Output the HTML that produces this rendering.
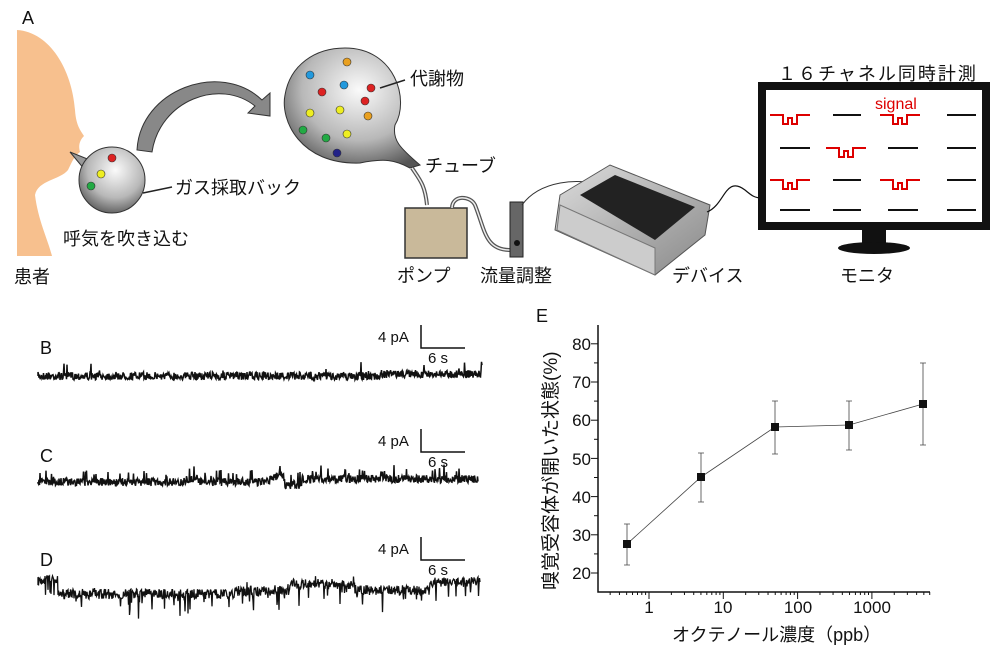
<!DOCTYPE html>
<html><head><meta charset="utf-8"><style>
body{margin:0;background:#fff}
svg{display:block}
text{font-family:"Liberation Sans","Noto Sans CJK JP",sans-serif;fill:#111}
</style></head><body>
<svg id="s" width="1000" height="657" viewBox="0 0 1000 657" xmlns="http://www.w3.org/2000/svg">
<defs>
<radialGradient id="g1" cx="0.55" cy="0.35" r="0.7"><stop offset="0" stop-color="#fafafa"/><stop offset="0.6" stop-color="#b8b8b8"/><stop offset="1" stop-color="#555"/></radialGradient>
<linearGradient id="dev" x1="0" y1="0" x2="1" y2="1"><stop offset="0" stop-color="#ddd"/><stop offset="1" stop-color="#888"/></linearGradient>
</defs>
<text x="22" y="24" font-size="18">A</text>
<path d="M17,30 C50,32 72,70 75,110 C76,125 80,130 84,136 C80,140 78,145 80,152 C74,156 72,162 68,170 C60,180 38,180 35,195 C38,220 48,240 52,256 L17,256 Z" fill="#f7c08e"/>
<text x="14" y="283" font-size="18">患者</text>
<path d="M70,152 L95,162 L85,170 Z" fill="#999" stroke="#333"/>
<circle cx="112" cy="180" r="33" fill="url(#g1)" stroke="#333"/>
<circle cx="112" cy="158" r="4" fill="#d22" stroke="#333" stroke-width=".6"/>
<circle cx="101" cy="174" r="4" fill="#ee2" stroke="#333" stroke-width=".6"/>
<circle cx="91" cy="186" r="4" fill="#2a4" stroke="#333" stroke-width=".6"/>
<line x1="143" y1="193" x2="172" y2="187" stroke="#222" stroke-width="1.5"/>
<text x="175" y="194" font-size="18">ガス採取バック</text>
<text x="63" y="245" font-size="18">呼気を吹き込む</text>
<path d="M137,150 C140,90 220,60 262,100 L270,93 L270,116 L248,113 L255,106 C220,78 160,100 152,152 Z" fill="#888" stroke="#333"/>
<path d="M345,48 C395,48 410,100 395,125 C392,140 400,148 420,165 L410,168 C395,160 385,158 360,163 C300,165 280,120 285,95 C290,65 315,48 345,48 Z" fill="url(#g1)" stroke="#333"/>
<g stroke="#333" stroke-width=".6">
<circle cx="347" cy="62" r="4" fill="#e9a020"/><circle cx="310" cy="75" r="4" fill="#29d"/><circle cx="344" cy="85" r="4" fill="#29d"/><circle cx="322" cy="92" r="4" fill="#d22"/><circle cx="371" cy="88" r="4" fill="#d22"/><circle cx="365" cy="101" r="4" fill="#d22"/><circle cx="310" cy="113" r="4" fill="#ee2"/><circle cx="340" cy="110" r="4" fill="#ee2"/><circle cx="368" cy="116" r="4" fill="#e9a020"/><circle cx="303" cy="130" r="4" fill="#2a4"/><circle cx="326" cy="138" r="4" fill="#2a4"/><circle cx="347" cy="134" r="4" fill="#ee2"/><circle cx="337" cy="153" r="4" fill="#228"/>
</g>
<line x1="380" y1="88" x2="405" y2="80" stroke="#222" stroke-width="1.5"/>
<text x="410" y="85" font-size="18">代謝物</text>
<text x="425" y="172" font-size="18">チューブ</text>
<path d="M412,168 C420,180 425,185 427,205" fill="none" stroke="#555" stroke-width="4"/>
<path d="M412,168 C420,180 425,185 427,205" fill="none" stroke="#eee" stroke-width="1.5"/>
<rect x="405" y="208" width="62" height="50" fill="#c9b99a" stroke="#333" stroke-width="1.5"/>
<text x="397" y="282" font-size="18">ポンプ</text>
<path d="M452,208 C452,195 470,195 475,205 C485,230 485,250 510,250" fill="none" stroke="#555" stroke-width="4"/>
<path d="M452,208 C452,195 470,195 475,205 C485,230 485,250 510,250" fill="none" stroke="#eee" stroke-width="1.5"/>
<rect x="510" y="202" width="13" height="55" fill="#666" stroke="#222"/>
<circle cx="517" cy="243" r="3" fill="#111"/>
<text x="480" y="282" font-size="18">流量調整</text>
<path d="M522,205 C540,180 580,178 600,185" fill="none" stroke="#333" stroke-width="1"/>
<path d="M560,195 L610,165 L710,205 L705,235 L655,275 L555,230 Z" fill="url(#dev)" stroke="#555"/>
<path d="M580,195 L615,175 L695,207 L655,240 Z" fill="#222"/>
<path d="M560,205 L655,248 L655,275 L557,230 Z" fill="#ccc" stroke="#777"/>
<text x="672" y="282" font-size="18">デバイス</text>
<path d="M707,212 C725,205 725,175 745,190 C752,196 755,198 762,198" fill="none" stroke="#111" stroke-width="1.2"/>
<rect x="762" y="86" width="224" height="140" fill="#fff" stroke="#111" stroke-width="8"/>
<rect x="862" y="226" width="24" height="18" fill="#111"/>
<ellipse cx="874" cy="248" rx="36" ry="6" fill="#111"/>
<text x="778" y="80" font-size="18" letter-spacing="2">１６チャネル同時計測</text>
<text x="875" y="109" font-size="16" style="fill:#d00">signal</text>
<g fill="none" stroke="#d00" stroke-width="2">
<path d="M770,115 h13 v9 h5 v-6 h4 v6 h5 v-9 h13"/>
<path d="M880,115 h13 v9 h5 v-6 h4 v6 h5 v-9 h13"/>
<path d="M826,148 h13 v9 h5 v-6 h4 v6 h5 v-9 h13"/>
<path d="M770,180 h13 v9 h5 v-6 h4 v6 h5 v-9 h13"/>
<path d="M880,180 h13 v9 h5 v-6 h4 v6 h5 v-9 h13"/>
</g>
<g stroke="#111" stroke-width="2">
<line x1="833" y1="115" x2="861" y2="115"/><line x1="947" y1="115" x2="976" y2="115"/>
<line x1="780" y1="148" x2="810" y2="148"/><line x1="888" y1="148" x2="918" y2="148"/><line x1="947" y1="148" x2="976" y2="148"/>
<line x1="833" y1="180" x2="861" y2="180"/><line x1="947" y1="180" x2="976" y2="180"/>
<line x1="780" y1="210" x2="810" y2="210"/><line x1="833" y1="210" x2="861" y2="210"/><line x1="888" y1="210" x2="918" y2="210"/><line x1="947" y1="210" x2="976" y2="210"/>
</g>
<text x="840" y="282" font-size="18">モニタ</text>
<text x="40" y="354" font-size="18">B</text>
<text x="40" y="462" font-size="18">C</text>
<text x="40" y="566" font-size="18">D</text>
<g font-size="15">
<text x="378" y="342">4 pA</text><text x="428" y="363">6 s</text>
<text x="378" y="446">4 pA</text><text x="428" y="467">6 s</text>
<text x="378" y="554">4 pA</text><text x="428" y="575">6 s</text>
</g>
<g fill="none" stroke="#111" stroke-width="1.5">
<path d="M421,325 v23 h44"/><path d="M421,429 v23 h44"/><path d="M421,537 v23 h44"/>
</g>
<g id="tr"></g>
<text x="536" y="322" font-size="18">E</text>
<path d="M598,325 V592 H930" stroke="#111" stroke-width="1.5" fill="none"/>
<g id="ax" stroke="#111" stroke-width="1"></g>
<g font-size="17" text-anchor="end">
<text x="591" y="350">80</text><text x="591" y="388">70</text><text x="591" y="426">60</text><text x="591" y="465">50</text><text x="591" y="503">40</text><text x="591" y="541">30</text><text x="591" y="579">20</text>
</g>
<g font-size="17" text-anchor="middle">
<text x="649" y="613">1</text><text x="723" y="613">10</text><text x="798" y="613">100</text><text x="872" y="613">1000</text>
</g>
<text x="672" y="641" font-size="18">オクテノール濃度（ppb）</text>
<text transform="translate(557,590) rotate(-90)" font-size="19">嗅覚受容体が開いた状態(%)</text>
<polyline points="627,544 701,477 775,427 849,425 923,404" fill="none" stroke="#444" stroke-width="0.8"/>
<g stroke="#444" stroke-width="0.8">
<path d="M627,524 V565 M624,524 h6 M624,565 h6"/>
<path d="M701,453 V502 M698,453 h6 M698,502 h6"/>
<path d="M775,401 V454 M772,401 h6 M772,454 h6"/>
<path d="M849,401 V450 M846,401 h6 M846,450 h6"/>
<path d="M923,363 V445 M920,363 h6 M920,445 h6"/>
</g>
<g fill="#111">
<rect x="623" y="540" width="8" height="8"/><rect x="697" y="473" width="8" height="8"/><rect x="771" y="423" width="8" height="8"/><rect x="845" y="421" width="8" height="8"/><rect x="919" y="400" width="8" height="8"/>
</g>
</svg>
<script>
var ns="http://www.w3.org/2000/svg";
var seed=7;function r(){seed=(seed*16807)%2147483647;return seed/2147483647;}
function add(d,w){var p=document.createElementNS(ns,"path");p.setAttribute("d",d);p.setAttribute("fill","none");p.setAttribute("stroke","#111");p.setAttribute("stroke-width",w);document.getElementById("tr").appendChild(p);}
function tr(y0,amp,spk,shifts,x0,x1){var d="M"+x0+","+y0,lv=0;
for(var x=x0;x<=x1;x+=0.5){lv=0;for(var i=0;i<shifts.length;i++){if(x>=shifts[i][0]&&x<shifts[i][1]){lv=shifts[i][2];break;}}
var v=y0+lv+(r()-0.5)*amp;if(r()<spk)v-=4+r()*8;d+=" L"+x.toFixed(1)+","+v.toFixed(1);}
add(d,1.5);}
tr(376,8,0.01,[[380,482,-2]],38,482);
tr(482,8,0.08,[[186,200,-3],[270,285,-5],[285,302,3],[302,482,-3]],38,478);
(function(){var d="M38,585";for(var x=38;x<=480;x+=0.5){var lv=0;
if(x<58)lv=-8;else if(x<235)lv=6;else if(x<290)lv=3;else if(x<355)lv=-4;else if(x<430)lv=2;else lv=-6;
var v=588+lv+(r()-0.5)*10;if(r()<0.12)v+=(r()-0.2)*25;d+=" L"+x+","+v.toFixed(1);}add(d,1.3);})();
var ax=document.getElementById("ax");
function ln(a,b,c,d2){var l=document.createElementNS(ns,"line");l.setAttribute("x1",a);l.setAttribute("y1",b);l.setAttribute("x2",c);l.setAttribute("y2",d2);ax.appendChild(l);}
for(var v=20;v<=80;v+=5){var y=573-(v-20)*3.82;ln(598,y,v%10?594:591,y);}
for(var e=-1;e<4;e++){for(var k=1;k<10;k++){var x=649+(e+Math.log10(k))*74.3;if(x>598&&x<930)ln(x,592,x,k==1?599:595);}}
</script>
</body></html>
